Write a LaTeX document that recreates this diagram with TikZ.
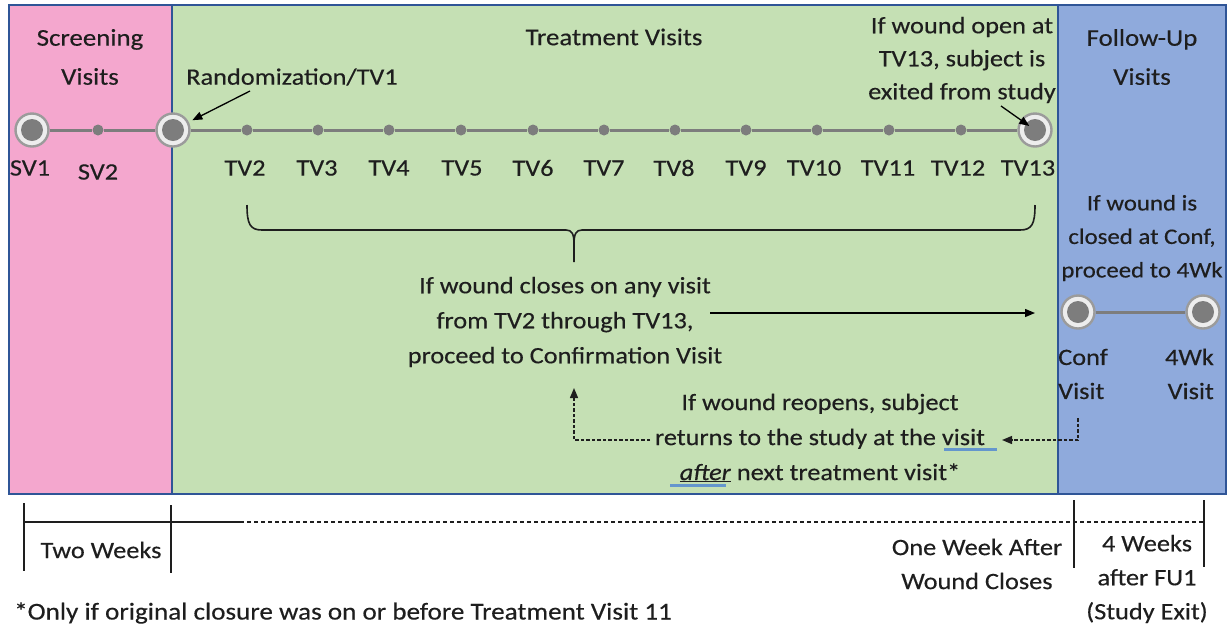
\documentclass[tikz,border=0pt]{standalone}
\usepackage{fontspec}
\setmainfont{Carlito}[FakeStretch=1.12,FakeBold=0.35]
\usetikzlibrary{arrows.meta}
\definecolor{pinkbg}{RGB}{244,167,206}
\definecolor{greenbg}{RGB}{197,224,180}
\definecolor{bluebg}{RGB}{143,170,220}
\definecolor{framec}{RGB}{47,85,151}
\definecolor{dotgray}{RGB}{125,125,125}
\definecolor{ringgray}{RGB}{155,155,155}
\definecolor{txt}{RGB}{30,30,30}
\definecolor{squig}{RGB}{100,150,205}
\begin{document}
\begin{tikzpicture}[x=1pt,y=-1pt,
  font=\fontsize{23.5}{34}\selectfont, text=txt,
  zone/.style={draw=framec, line width=1.5pt, anchor=north west, inner sep=0pt, outer sep=0pt},
  bigdot/.style={circle, minimum size=33pt, inner sep=0pt, fill=white!93!black, draw=ringgray, line width=2.4pt,
    path picture={\fill[dotgray] (path picture bounding box.center) circle (11pt);}},
  smalldot/.style={circle, minimum size=11pt, inner sep=0pt, fill=dotgray},
  tline/.style={draw=dotgray, line width=3pt},
  lbl/.style={inner sep=0pt, align=center},
  head/.style={inner sep=0pt, align=center, font=\fontsize{24}{39}\selectfont},
  arr/.style={draw=black, line width=1.3pt, -{Triangle[length=10pt,width=8pt]}},
  darr/.style={draw=txt, line width=1.3pt, dash pattern=on 3.5pt off 2pt, -{Triangle[length=10pt,width=8pt]}},
  brace/.style={draw=txt, line width=1.6pt},
  scaleline/.style={draw=txt, line width=1.4pt},
  squiggle/.style={draw=squig, line width=3pt}
]
\useasboundingbox (0,0) rectangle (1231,633);
\fill[white] (0,0) rectangle (1231,633);

% zones
\node[zone, fill=pinkbg, minimum width=163pt, minimum height=489pt] (screen) at (9,5) {};
\node[zone, fill=greenbg, minimum width=886pt, minimum height=489pt] (treat) at (172,5) {};
\node[zone, fill=bluebg, minimum width=168pt, minimum height=489pt] (follow) at (1058,5) {};

% headings
\node[head] (hscreen) at (90,57) {Screening\\Visits};
\node[head] (htreat) at (614,37) {Treatment Visits};
\node[head] (hfollow) at (1142,57) {Follow-Up\\Visits};

% timeline dots
\node[bigdot] (sv1) at (32,130) {};
\node[smalldot] (sv2) at (98,130) {};
\node[bigdot] (tv1) at (173,130) {};
\foreach \n/\x in {2/247,3/318,4/389,5/461,6/533,7/604,8/675,9/746,10/817,11/889,12/961}
  \node[smalldot] (tv\n) at (\x,130) {};
\node[bigdot] (tv13) at (1035,130) {};

\draw[tline] (sv1) -- (sv2);
\draw[tline] (sv2) -- (tv1);
\draw[tline] (tv1) -- (tv2);
\foreach \a/\b in {2/3,3/4,4/5,5/6,6/7,7/8,8/9,9/10,10/11,11/12,12/13}
  \draw[tline] (tv\a) -- (tv\b);

% timeline labels
\node[lbl] (lsv1) at (30,168) {SV1};
\node[lbl] (lsv2) at (98,172) {SV2};
\foreach \n/\x in {2/245,3/317,4/389,5/462,6/533,7/604,8/674,9/746,10/814,11/888,12/958,13/1028}
  \node[lbl] (ltv\n) at (\x,168) {TV\n};

% randomization
\node[lbl] (rand) at (292,77) {Randomization/TV1};
\coordinate (randtail) at (250,91);
\draw[arr, shorten >=4pt] (randtail) -- (tv1);

% TV13 note
\node[lbl, font=\fontsize{23.5}{33}\selectfont] (opennote) at (962,60) {If wound open at\\TV13, subject is\\exited from study};
\coordinate (opentail) at (1001,106);
\draw[arr, shorten >=7pt] (opentail) -- (tv13.center);

% brace
\coordinate (bl) at (247,205);
\coordinate (br) at (1035,205);
\coordinate (btip) at (574,262);
\draw[brace] (bl) .. controls (247,224) and (250,230) .. (262,230) -- (566,230)
  .. controls (572,230) and (574,234) .. (574,244) -- (btip);
\draw[brace] (574,244) .. controls (574,234) and (576,230) .. (582,230) -- (1020,230)
  .. controls (1032,230) and (1035,224) .. (br);

% closes text and arrow
\node[lbl, font=\fontsize{23.5}{35}\selectfont] (closes) at (565,322) {If wound closes on any visit\\from TV2 through TV13,\\proceed to Confirmation Visit};
\coordinate (closetail) at (710,313);
\coordinate (closehead) at (1035,313);
\draw[arr] (closetail) -- (closehead);

% follow-up
\node[lbl, font=\fontsize{22.2}{33.5}\selectfont] (fnote) at (1142,238) {If wound is\\closed at Conf,\\proceed to 4Wk};
\node[bigdot] (conf) at (1078,312) {};
\node[bigdot] (wk4) at (1203,312) {};
\draw[tline] (conf) -- (wk4);
\node[inner sep=0pt, align=left, anchor=west] (lconf) at (1058,374) {Conf\\Visit};
\node[inner sep=0pt, align=right, anchor=east] (lwk4) at (1214,374) {4Wk\\Visit};

% reopen text
\node[lbl, font=\fontsize{23.5}{35}\selectfont] (reopen) at (820,438) {If wound reopens, subject\\returns to the study at the visit\\\underline{\textit{after}} next treatment visit*};
\draw[squiggle] (944,449) -- (997,449);
\draw[squiggle] (670,485) -- (726,485);
\coordinate (dstart) at (1078,418);
\coordinate (dturn) at (1078,440);
\coordinate (dhead) at (1002,440);
\draw[darr] (dstart) -- (dturn) -- (dhead);
\coordinate (ustart) at (650,440);
\coordinate (uturn) at (574,440);
\coordinate (uhead) at (574,388);
\draw[darr] (ustart) -- (uturn) -- (uhead);

% bottom scale
\coordinate (s0) at (24,522);
\coordinate (s1) at (240,522);
\coordinate (s2) at (1204,522);
\draw[scaleline] (24,503) -- (24,571);
\draw[scaleline] (171,505) -- (171,573);
\draw[scaleline] (1074,500) -- (1074,568);
\draw[scaleline] (1204,500) -- (1204,567);
\draw[scaleline] (s0) -- (s1);
\draw[scaleline, line width=1.2pt, dash pattern=on 4pt off 3pt] (s1) -- (s2);
\node[lbl] (twow) at (101,550) {Two Weeks};
\node[lbl] (onew) at (977,564) {One Week After\\Wound Closes};
\node[lbl] (fourw) at (1147,579) {4 Weeks\\after FU1\\(Study Exit)};
\node[inner sep=0pt, anchor=west, font=\fontsize{24.2}{34}\selectfont] (foot) at (14,613) {*Only if original closure was on or before Treatment Visit 11};
\end{tikzpicture}
\end{document}
